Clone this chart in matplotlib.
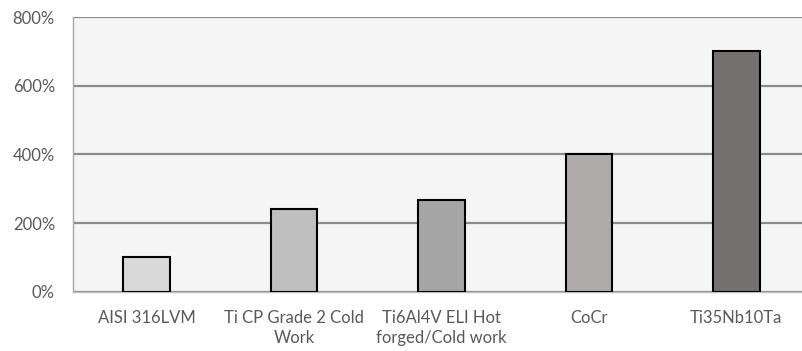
import matplotlib.pyplot as plt
from matplotlib.ticker import FuncFormatter

# 材料及相对数值（%）
materials = ["AISI 316LVM", "Ti CP Grade 2 Cold\nWork", "Ti6Al4V ELI Hot\nforged/Cold work", "CoCr", "Ti35Nb10Ta"]
values = [100, 240, 268, 400, 700]
bar_colors = ["#d9d9d9", "#bfbfbf", "#a6a6a6", "#afabaa", "#767171"]
y_ticks = [0, 200, 400, 600, 800]

plt.rcParams['font.family'] = ['Lato', 'DejaVu Sans']

fig = plt.figure(figsize=(8.03, 3.51), dpi=100)
ax = fig.add_axes([73 / 803, 1 - 291.7 / 351, 730 / 803, (291.7 - 17) / 351])
ax.set_facecolor("#f5f5f5")

x = list(range(len(materials)))
ax.bar(x, values, width=0.316, color=bar_colors, edgecolor="black", linewidth=1.5, zorder=3)

ax.set_xlim(-0.5, -0.5 + 730 / 147.4)
ax.set_ylim(0, 800)
ax.set_yticks(y_ticks)
ax.yaxis.set_major_formatter(FuncFormatter(lambda v, p: f"{int(v)}%"))
ax.grid(axis="y", color="#8c8c8c", linewidth=1.6, zorder=1)

ax.set_xticks(x)
ax.set_xticklabels(materials, linespacing=1.35)
ax.tick_params(axis="both", length=0, labelsize=12, labelcolor="#595959")
ax.tick_params(axis="x", pad=13)
ax.tick_params(axis="y", pad=13)

for s in ["top", "right"]:
    ax.spines[s].set_visible(False)
ax.spines["left"].set_color("#a6a6a6")
ax.spines["left"].set_linewidth(1.0)
ax.spines["bottom"].set_color("#bfbfbf")
ax.spines["bottom"].set_linewidth(1.0)

fig.savefig("out.png", dpi=100, facecolor="white")
